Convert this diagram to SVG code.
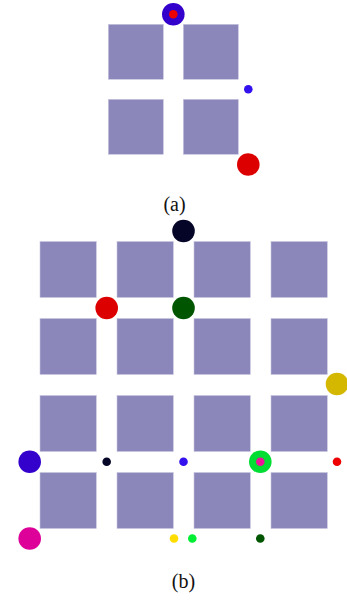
<svg xmlns="http://www.w3.org/2000/svg" width="347" height="600" viewBox="0 0 347 600">
<style>
.blk{fill:#8b87ba;stroke:#c9c6e0;stroke-width:0.6}
.lbl{font-family:"Liberation Serif",serif;font-size:20px;fill:#111;text-anchor:middle}
</style>
<rect width="347" height="600" fill="#fff"/>
<g id="panel-a">
<g id="a-blocks">
<rect class="blk" x="108.3" y="24.3" width="55" height="55"/>
<rect class="blk" x="183.3" y="24.3" width="55" height="55"/>
<rect class="blk" x="108.3" y="99.3" width="55" height="55"/>
<rect class="blk" x="183.3" y="99.3" width="55" height="55"/>
</g>
<g id="a-top"><circle cx="173.3" cy="14.3" r="11.3" fill="#3300cc"/><circle cx="173.3" cy="14.3" r="4.3" fill="#ee0000"/></g>
<g id="a-blue-small"><circle cx="248.3" cy="89.3" r="4.3" fill="#3311ee"/></g>
<g id="a-red"><circle cx="248.3" cy="164.5" r="11.3" fill="#dd0000"/></g>
<text class="lbl" x="174.5" y="210.5">(a)</text>
</g>
<g id="panel-b">
<g id="b-blocks">
<rect class="blk" x="40" y="241.5" width="56.3" height="56"/>
<rect class="blk" x="117" y="241.5" width="56.3" height="56"/>
<rect class="blk" x="194" y="241.5" width="56.3" height="56"/>
<rect class="blk" x="271" y="241.5" width="56.3" height="56"/>
<rect class="blk" x="40" y="318.5" width="56.3" height="56"/>
<rect class="blk" x="117" y="318.5" width="56.3" height="56"/>
<rect class="blk" x="194" y="318.5" width="56.3" height="56"/>
<rect class="blk" x="271" y="318.5" width="56.3" height="56"/>
<rect class="blk" x="40" y="395.5" width="56.3" height="56"/>
<rect class="blk" x="117" y="395.5" width="56.3" height="56"/>
<rect class="blk" x="194" y="395.5" width="56.3" height="56"/>
<rect class="blk" x="271" y="395.5" width="56.3" height="56"/>
<rect class="blk" x="40" y="472.5" width="56.3" height="56"/>
<rect class="blk" x="117" y="472.5" width="56.3" height="56"/>
<rect class="blk" x="194" y="472.5" width="56.3" height="56"/>
<rect class="blk" x="271" y="472.5" width="56.3" height="56"/>
</g>
<g id="b-black-top"><circle cx="183.5" cy="231" r="11.3" fill="#050528"/></g>
<g id="b-red"><circle cx="106.7" cy="308" r="11.3" fill="#dd0000"/></g>
<g id="b-darkgreen"><circle cx="183.5" cy="308" r="11.3" fill="#005500"/></g>
<g id="b-gold"><circle cx="337" cy="384" r="11.3" fill="#d4b800"/></g>
<g id="b-blue-big"><circle cx="29.7" cy="461.7" r="11.3" fill="#3300cc"/></g>
<g id="b-black-small"><circle cx="106.7" cy="461.7" r="4.3" fill="#050528"/></g>
<g id="b-blue-small"><circle cx="183.5" cy="461.7" r="4.3" fill="#3311ee"/></g>
<g id="b-green-ring"><circle cx="260.3" cy="461.7" r="11.3" fill="#00dd33"/><circle cx="260.3" cy="461.7" r="4.3" fill="#ee1199"/></g>
<g id="b-red-small"><circle cx="337" cy="461.7" r="4.3" fill="#ee0000"/></g>
<g id="b-magenta"><circle cx="29.7" cy="538.5" r="11.3" fill="#dd0099"/></g>
<g id="b-yellow-small"><circle cx="174" cy="538.5" r="4.3" fill="#ffdd00"/></g>
<g id="b-green-small"><circle cx="192.3" cy="538.5" r="4.3" fill="#00ee33"/></g>
<g id="b-darkgreen-small"><circle cx="260.3" cy="538.5" r="4.3" fill="#005500"/></g>
<text class="lbl" x="183.5" y="587.5">(b)</text>
</g>
<g id="connectors"/>
</svg>
